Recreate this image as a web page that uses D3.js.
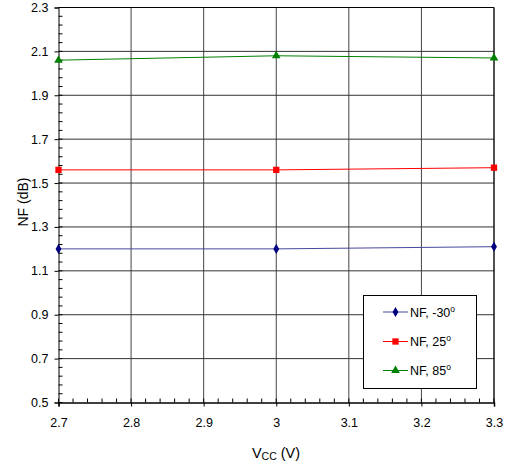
<!DOCTYPE html>
<html><head><meta charset="utf-8">
<script src="https://cdn.jsdelivr.net/npm/d3@7"></script>
<style>body{margin:0;background:#fff}svg{display:block;font-family:"Liberation Sans",Arial,sans-serif}</style>
</head><body>
<svg id="c" width="505" height="467"></svg>
<script>
const vcc = [2.7, 3.0, 3.3];
const nfM30 = [1.20, 1.20, 1.21];
const nf25 = [1.56, 1.56, 1.57];
const nf85 = [2.06, 2.08, 2.07];
const xTicks = [2.7, 2.8, 2.9, 3.0, 3.1, 3.2, 3.3];
const yTicks = [0.5, 0.7, 0.9, 1.1, 1.3, 1.5, 1.7, 1.9, 2.1, 2.3];
const seriesNames = ["NF, -30", "NF, 25", "NF, 85"];

const svg = d3.select("#c");
const x = d3.scaleLinear().domain([2.7, 3.3]).range([58.5, 494]);
const y = d3.scaleLinear().domain([0.5, 2.3]).range([402.5, 7.5]);

// gridlines
svg.append("g").selectAll("line").data(xTicks.slice(1)).join("line")
  .attr("x1", d => x(d)).attr("x2", d => x(d)).attr("y1", y(2.3)).attr("y2", y(0.5))
  .attr("stroke", "#444").attr("stroke-width", 1);
svg.append("g").selectAll("line").data(yTicks.slice(1)).join("line")
  .attr("x1", x(2.7)).attr("x2", x(3.3)).attr("y1", d => y(d)).attr("y2", d => y(d))
  .attr("stroke", "#333").attr("stroke-width", 1);

// y axis
const yAxis = d3.axisLeft(y).tickValues(yTicks).tickSize(4).tickPadding(6).tickFormat(d3.format(".1f"));
const gy = svg.append("g").attr("transform", `translate(${x(2.7)},0)`).call(yAxis);
gy.select(".domain").attr("stroke", "#000");
gy.selectAll(".tick line").attr("stroke", "#000");
gy.selectAll("text").attr("font-size", 12.5).attr("fill", "#000").attr("font-family", "Liberation Sans, Arial, sans-serif");
const yMinor = d3.range(0, 46).map(i => +(0.5 + i * 0.04).toFixed(2)).filter(v => v <= 2.3);
svg.append("g").selectAll("line").data(yMinor).join("line")
  .attr("x1", x(2.7)).attr("x2", x(2.7) + 4).attr("y1", d => y(d)).attr("y2", d => y(d))
  .attr("stroke", "#000");

// x axis
const xAxis = d3.axisBottom(x).tickValues(xTicks).tickSize(4).tickPadding(12).tickFormat(d => d3.format("")(+d.toFixed(1)));
const gx = svg.append("g").attr("transform", `translate(0,${y(0.5)})`).call(xAxis);
gx.select(".domain").attr("stroke", "#000").attr("stroke-width", 1.5);
gx.selectAll(".tick line").attr("stroke", "#000");
gx.selectAll("text").attr("font-size", 12.5).attr("fill", "#000").attr("font-family", "Liberation Sans, Arial, sans-serif");
const xMinor = d3.range(0, 31).map(i => +(2.7 + i * 0.02).toFixed(2));
svg.append("g").selectAll("line").data(xMinor).join("line")
  .attr("x1", d => x(d)).attr("x2", d => x(d)).attr("y1", y(0.5)).attr("y2", y(0.5) - 4)
  .attr("stroke", "#000");
svg.append("line").attr("x1", x(2.7)).attr("x2", x(3.3)).attr("y1", y(2.3)).attr("y2", y(2.3)).attr("stroke", "#000");
svg.append("line").attr("x1", x(3.3)).attr("x2", x(3.3)).attr("y1", y(2.3)).attr("y2", y(0.5)).attr("stroke", "#000");

// series
const series = [
  {name: seriesNames[0], vals: nfM30, color: "#000080", line: "#4848a0", sym: d3.symbolDiamond, size: 30},
  {name: seriesNames[1], vals: nf25, color: "#ff0000", line: "#ff0000", sym: d3.symbolSquare, size: 40},
  {name: seriesNames[2], vals: nf85, color: "#008000", line: "#008000", sym: d3.symbolTriangle, size: 32}
];
const line = d3.line().x((d, i) => x(vcc[i])).y(d => y(d));
series.forEach(s => {
  svg.append("path").datum(s.vals).attr("d", line).attr("fill", "none").attr("stroke", s.line).attr("stroke-width", 1);
  svg.append("g").selectAll("path").data(s.vals).join("path")
    .attr("transform", (d, i) => `translate(${x(vcc[i])},${y(d)})`)
    .attr("d", d3.symbol().type(s.sym).size(s.size)).attr("fill", s.color);
});

// legend
const lg = svg.append("g");
lg.append("rect").attr("x", 363.5).attr("y", 295.5).attr("width", 113).attr("height", 93)
  .attr("fill", "#fff").attr("stroke", "#000").attr("stroke-width", 1);
const rows = [312, 341.5, 370.5];
series.forEach((s, i) => {
  lg.append("line").attr("x1", 383).attr("x2", 408).attr("y1", rows[i]).attr("y2", rows[i]).attr("stroke", s.line);
  lg.append("path").attr("transform", `translate(395.5,${rows[i]})`).attr("d", d3.symbol().type(s.sym).size(s.size)).attr("fill", s.color);
  const t = lg.append("text").attr("x", 410).attr("y", rows[i] + 4.5).attr("font-size", 12.5).attr("fill", "#000");
  t.append("tspan").text(s.name);
  t.append("tspan").attr("dy", -5).attr("font-size", 8.5).text("o");
});

// axis titles
const xt = svg.append("text").attr("x", 276).attr("y", 458).attr("text-anchor", "middle").attr("font-size", 14.5).attr("fill", "#000");
xt.append("tspan").text("V");
xt.append("tspan").attr("font-size", 10.5).attr("dy", 2).text("CC");
xt.append("tspan").attr("dy", -2).text(" (V)");
svg.append("text").attr("transform", "translate(27.5,202) rotate(-90)").attr("text-anchor", "middle")
  .attr("font-size", 14).attr("fill", "#000").text("NF (dB)");
</script>
</body></html>
